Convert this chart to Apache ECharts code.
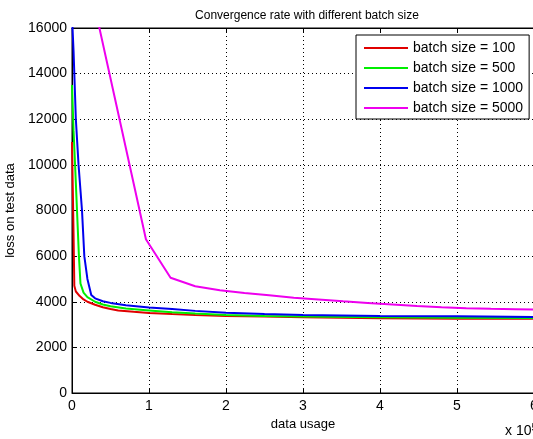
<!DOCTYPE html>
<html>
<head>
<meta charset="utf-8">
<script src="https://cdn.jsdelivr.net/npm/echarts@6/dist/echarts.min.js"></script>
<style>
html,body{margin:0;padding:0;background:#fff;}
#chart{width:533px;height:439px;}
</style>
</head>
<body>
<div id="chart"></div>
<script>
// x values are in units of 10^5 (data usage)
var seriesNames = ['batch size = 100', 'batch size = 500', 'batch size = 1000', 'batch size = 5000'];
var seriesColors = ['#e00000', '#00ee00', '#0000ee', '#ee00ee'];

var batch100 = [
  [0, 11000], [0.01, 9000], [0.02, 7000], [0.03, 4700], [0.05, 4450], [0.1, 4250],
  [0.15, 4100], [0.2, 4000], [0.3, 3870], [0.4, 3760], [0.5, 3680], [0.6, 3620],
  [0.8, 3560], [1.0, 3510], [1.3, 3460], [1.6, 3420], [2.0, 3380], [2.5, 3350],
  [3.0, 3320], [3.5, 3300], [4.0, 3280], [4.5, 3270], [5.0, 3260], [5.5, 3255], [6.0, 3250]
];
var batch500 = [
  [0, 13500], [0.02, 11500], [0.04, 10000], [0.065, 8000], [0.09, 6000], [0.11, 4800],
  [0.15, 4400], [0.2, 4200], [0.3, 4000], [0.4, 3880], [0.5, 3800], [0.7, 3700],
  [1.0, 3620], [1.3, 3540], [1.6, 3480], [2.0, 3420], [2.5, 3380], [3.0, 3350],
  [4.0, 3320], [5.0, 3300], [6.0, 3290]
];
var batch1000 = [
  [0, 16500], [0.02, 15000], [0.03, 14000], [0.05, 12000], [0.085, 10000], [0.13, 8000],
  [0.16, 6000], [0.2, 5000], [0.25, 4300], [0.3, 4150], [0.4, 4020], [0.5, 3950],
  [0.7, 3850], [1.0, 3750], [1.3, 3680], [1.6, 3600], [2.0, 3520], [2.5, 3460],
  [3.0, 3420], [3.5, 3400], [4.0, 3380], [5.0, 3360], [5.35, 3350], [6.0, 3330]
];
var batch5000 = [
  [0.32, 16550], [0.64, 11650], [0.96, 6740], [1.28, 5050], [1.6, 4680], [1.92, 4500],
  [2.24, 4380], [2.56, 4280], [2.88, 4180], [3.2, 4100], [3.52, 4020], [3.84, 3950],
  [4.16, 3880], [4.48, 3810], [4.8, 3760], [5.12, 3720], [5.44, 3690], [5.76, 3670], [6.08, 3650]
];
var seriesData = [batch100, batch500, batch1000, batch5000];

var xTicks = [0, 1, 2, 3, 4, 5, 6];
var yTicks = [0, 2000, 4000, 6000, 8000, 10000, 12000, 14000, 16000];

var FONT = '"Liberation Sans", Arial, sans-serif';
var chart = echarts.init(document.getElementById('chart'));

var series = seriesNames.map(function (n, i) {
  return {
    name: n,
    type: 'line',
    data: seriesData[i],
    showSymbol: false,
    symbol: 'none',
    clip: true,
    lineStyle: { color: seriesColors[i], width: 2 },
    itemStyle: { color: seriesColors[i] },
    z: 10 + i
  };
});

chart.setOption({
  animation: false,
  backgroundColor: '#fff',
  title: {
    text: 'Convergence rate with different batch size',
    left: 302, top: 5, textAlign: 'center',
    textStyle: { fontFamily: FONT, fontSize: 12, fontWeight: 'normal', color: '#000' }
  },
  grid: { left: 72, top: 28, width: 462, height: 365, show: true, borderColor: '#000', borderWidth: 1,
    containLabel: false, outerBoundsMode: 'none' },
  legend: {
    left: 356, top: 35,
    orient: 'vertical',
    icon: 'rect',
    itemWidth: 44, itemHeight: 2, itemGap: 6,
    padding: [6, 6, 4, 8],
    backgroundColor: '#fff',
    borderColor: '#000', borderWidth: 1,
    textStyle: { fontFamily: FONT, fontSize: 14, color: '#000' },
    data: seriesNames
  },
  xAxis: [{
    type: 'value', min: 0, max: 6, interval: 1,
    name: 'data usage', nameLocation: 'middle', nameGap: 24,
    nameTextStyle: { fontFamily: FONT, fontSize: 13, color: '#000' },
    axisLine: { show: true, lineStyle: { color: '#000', width: 1 } },
    axisTick: { show: true, inside: true, length: 5, lineStyle: { color: '#000' } },
    axisLabel: { fontFamily: FONT, fontSize: 14, color: '#000', margin: 6, showMaxLabel: true,
      formatter: function (v) { return xTicks.indexOf(v) >= 0 ? String(v) : ''; } },
    splitLine: { show: true, lineStyle: { color: '#000', width: 1, type: [1, 3] } }
  }, {
    type: 'value', min: 0, max: 6, interval: 1, position: 'top',
    axisLine: { show: true, lineStyle: { color: '#000' } },
    axisTick: { show: true, inside: true, length: 5, lineStyle: { color: '#000' } },
    axisLabel: { show: false }, splitLine: { show: false }
  }],
  yAxis: {
    type: 'value', min: 0, max: 16000, interval: 2000,
    name: 'loss on test data', nameLocation: 'middle', nameGap: 50, nameRotate: 90,
    nameTextStyle: { fontFamily: FONT, fontSize: 13, color: '#000' },
    axisLine: { show: true, lineStyle: { color: '#000', width: 1 } },
    axisTick: { show: true, inside: true, length: 5, lineStyle: { color: '#000' } },
    axisLabel: { fontFamily: FONT, fontSize: 14, color: '#000', margin: 5,
      formatter: function (v) { return yTicks.indexOf(v) >= 0 ? String(v) : ''; } },
    splitLine: { show: true, lineStyle: { color: '#000', width: 1, type: [1, 3] } }
  },
  graphic: [{
    type: 'text', left: 505, top: 422, z: 100,
    style: {
      text: 'x 10{s|5}',
      fontFamily: FONT, fontSize: 14, fill: '#000',
      rich: { s: { fontFamily: FONT, fontSize: 11, verticalAlign: 'top', padding: [0, 0, 8, 0] } }
    }
  }],
  series: series
});
</script>
</body>
</html>
